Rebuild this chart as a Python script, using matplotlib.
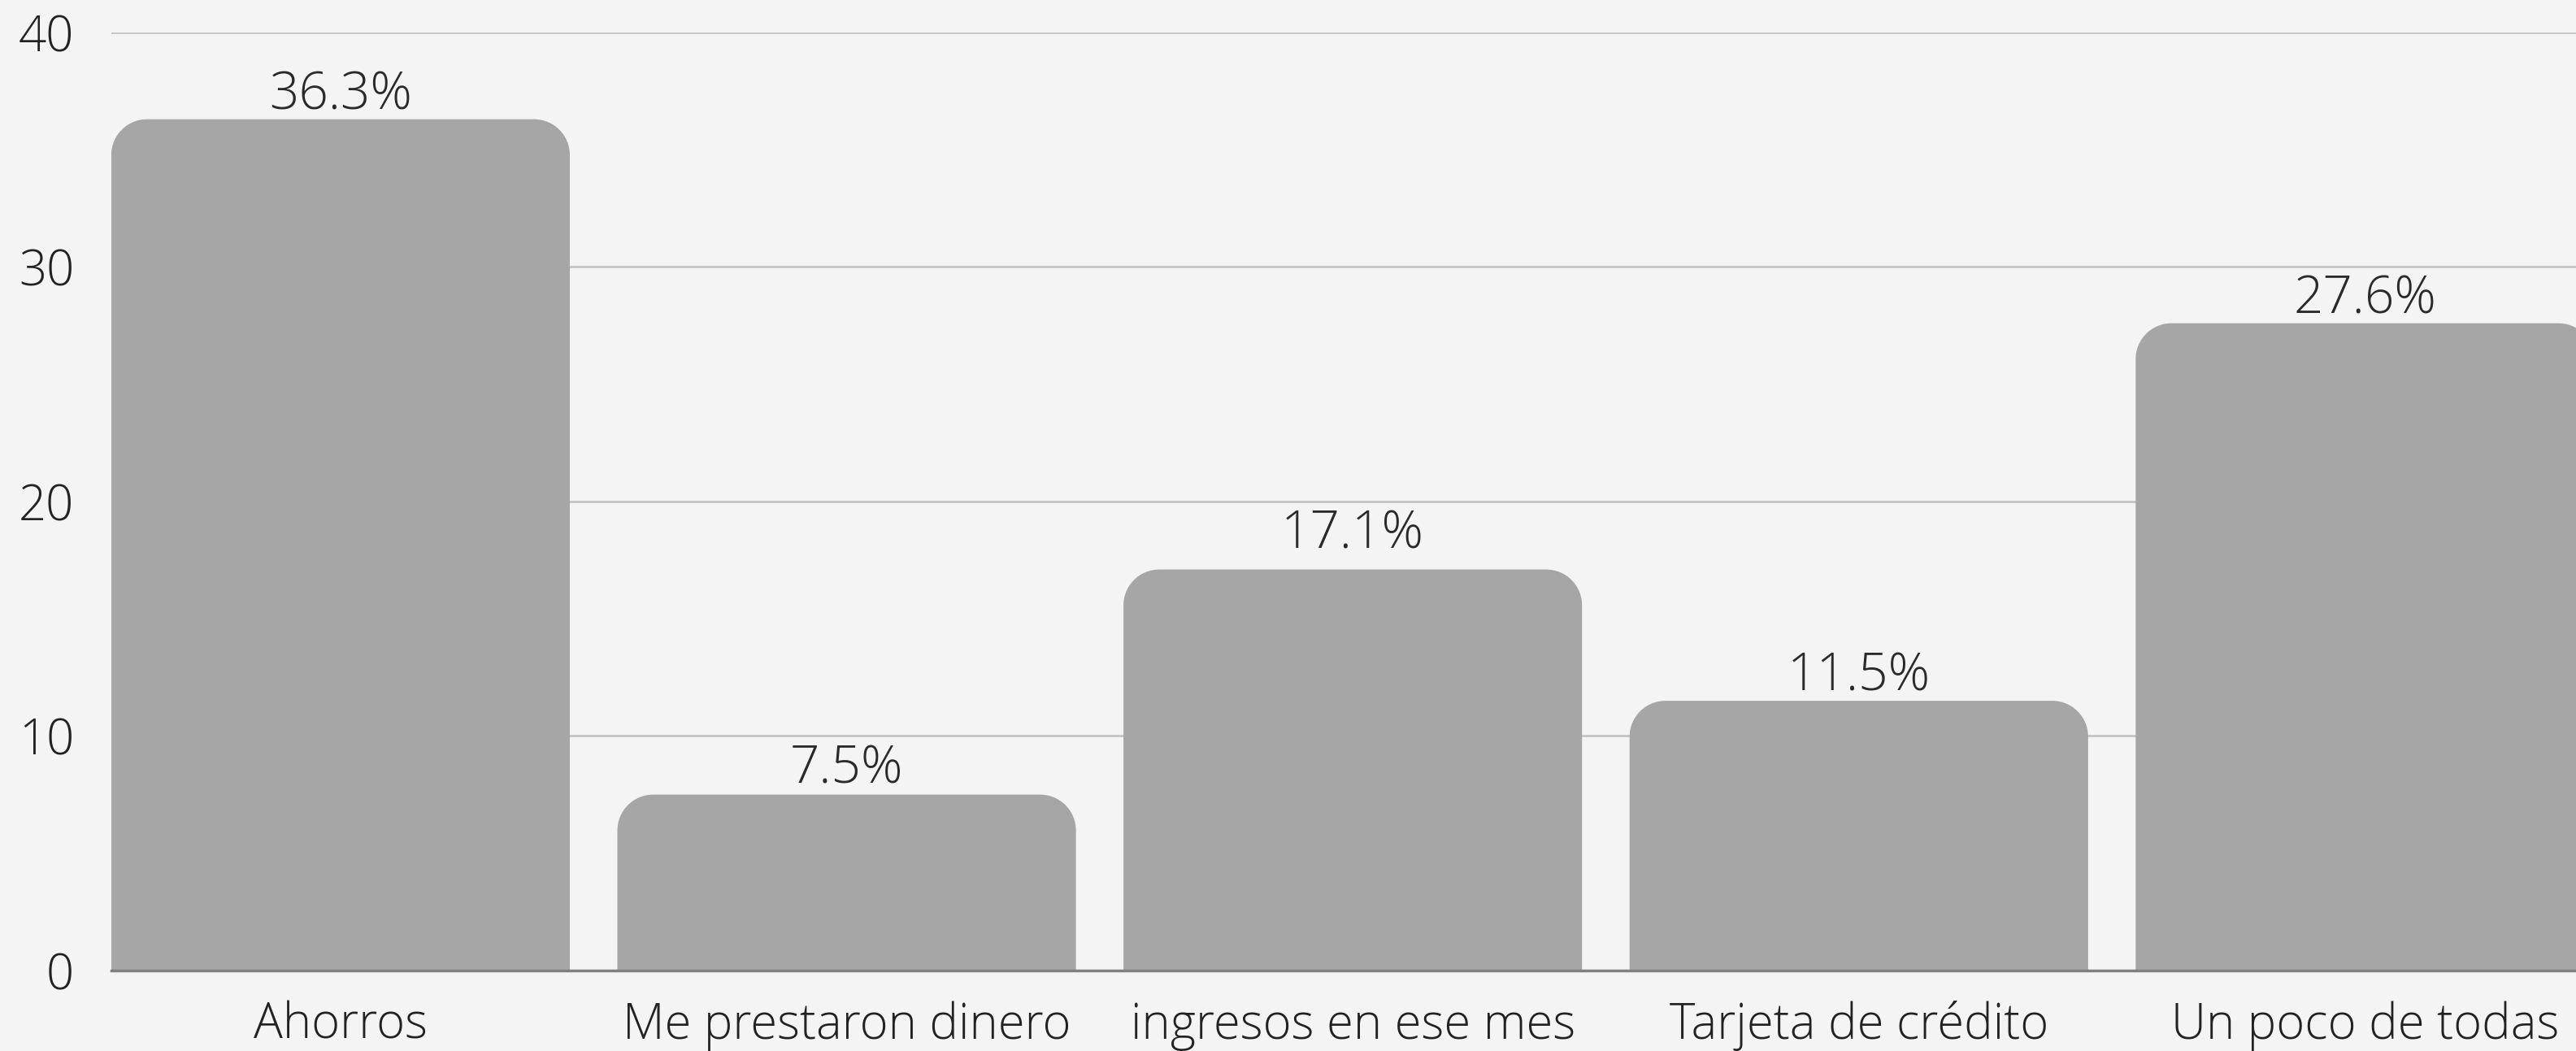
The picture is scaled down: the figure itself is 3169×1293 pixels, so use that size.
import numpy as np
import matplotlib
matplotlib.use("Agg")
from matplotlib import pyplot as plt
from matplotlib import font_manager
from matplotlib.path import Path
from matplotlib.patches import PathPatch


## data
categories = ["Ahorros", "Me prestaron dinero", "ingresos en ese mes",
              "Tarjeta de crédito", "Un poco de todas"]
values = [36.3, 7.5, 17.1, 11.5, 27.6]
yTicks = [0, 10, 20, 30, 40]

## style
bgColor = "#f4f4f4"
barColor = "#a6a6a6"
gridColor = "#c4c4c4"
textColor = "#222222"
cornerPx = 44                                   # corner radius in pixels
labelOffsets = [9, 10, 19, 9, 9]                # value label gap above bar, points

# look up the light cut of Open Sans directly
lightFiles = [f.fname for f in font_manager.fontManager.ttflist
              if f.fname.endswith("OpenSans-Light.ttf")]
if lightFiles:
    def fontProps(size):
        return font_manager.FontProperties(fname=lightFiles[0], size=size)
else:
    def fontProps(size):
        return font_manager.FontProperties(family=['Open Sans', 'DejaVu Sans'],
                                           weight='light', size=size)


## figure and axes
fig = plt.figure(figsize=(31.69, 12.93), dpi=100, facecolor=bgColor)
ax = fig.add_axes([0.0432, 0.0766, 0.9568, 0.8925])
ax.set_facecolor(bgColor)
ax.set_xlim(-0.453, 4.417)
ax.set_ylim(0, 40)

for side in ["top", "right", "left"]:
    ax.spines[side].set_visible(False)
ax.spines["bottom"].set_color("#808080")
ax.spines["bottom"].set_linewidth(2.5)
ax.spines["bottom"].set_zorder(5)

ax.set_yticks(yTicks)
ax.set_yticklabels([str(t) for t in yTicks])
ax.set_xticks(np.arange(len(categories)))
ax.set_xticklabels(categories)
ax.tick_params(axis="y", length=0, pad=33, labelcolor=textColor)
ax.tick_params(axis="x", length=0, pad=27, labelcolor=textColor)
for lbl in ax.get_xticklabels() + ax.get_yticklabels():
    lbl.set_fontproperties(fontProps(43))

ax.yaxis.grid(True, color=gridColor, linewidth=2)
ax.set_axisbelow(True)


## bars with rounded top corners
bars = ax.bar(np.arange(len(categories)), values, width=0.906, color=barColor)

fig.canvas.draw()
# convert corner radius from pixels to data units
p0 = ax.transData.inverted().transform((0, 0))
p1 = ax.transData.inverted().transform((cornerPx, cornerPx))
rx, ry = abs(p1[0] - p0[0]), abs(p1[1] - p0[1])
k = 0.5523                                      # bezier constant for quarter circle

for bar in bars:
    x0, y0 = bar.get_x(), bar.get_y()
    x1, y1 = x0 + bar.get_width(), y0 + bar.get_height()
    verts = [(x0, y0), (x0, y1 - ry),
             (x0, y1 - ry + k*ry), (x0 + rx - k*rx, y1), (x0 + rx, y1),
             (x1 - rx, y1),
             (x1 - rx + k*rx, y1), (x1, y1 - ry + k*ry), (x1, y1 - ry),
             (x1, y0), (x0, y0)]
    codes = [Path.MOVETO, Path.LINETO,
             Path.CURVE4, Path.CURVE4, Path.CURVE4,
             Path.LINETO,
             Path.CURVE4, Path.CURVE4, Path.CURVE4,
             Path.LINETO, Path.CLOSEPOLY]
    ax.add_patch(PathPatch(Path(verts, codes), facecolor=barColor,
                           edgecolor="none", zorder=2))
    bar.set_visible(False)

# value labels
for ind, v in enumerate(values):
    ax.annotate(f"{v}%", (ind, v), xytext=(0, labelOffsets[ind]),
                textcoords="offset points", ha="center", va="baseline",
                color="#2a2a2a", fontproperties=fontProps(46))

fig.savefig("out.png", dpi=100, facecolor=bgColor)
